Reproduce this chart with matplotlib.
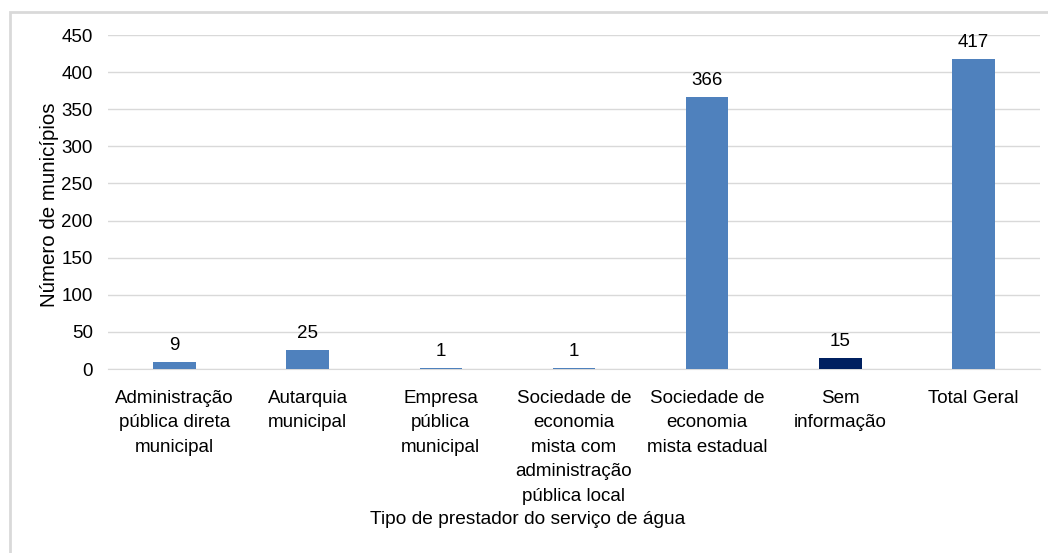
import matplotlib.pyplot as plt
from matplotlib.patches import Rectangle

categorias = [
    "Administração\npública direta\nmunicipal",
    "Autarquia\nmunicipal",
    "Empresa\npública\nmunicipal",
    "Sociedade de\neconomia\nmista com\nadministração\npública local",
    "Sociedade de\neconomia\nmista estadual",
    "Sem\ninformação",
    "Total Geral",
]
valores = [9, 25, 1, 1, 366, 15, 417]
cores = ["#4F81BD", "#4F81BD", "#4F81BD", "#4F81BD", "#4F81BD", "#002060", "#4F81BD"]

plt.rcParams['font.family'] = ['Liberation Sans', 'DejaVu Sans']
fs = 13.5

fig = plt.figure(figsize=(10.48, 5.53), dpi=100)
ax = fig.add_axes([108 / 1048, 1 - 369 / 553, (1040 - 108) / 1048, (369 - 35) / 553])

x = range(len(valores))
barras = ax.bar(x, valores, width=0.32, color=cores, zorder=3)
for xi, v in zip(x, valores):
    ax.text(xi, v + 11, str(v), ha="center", va="bottom", fontsize=fs)

ax.set_xlim(-0.5, len(valores) - 0.5)
ax.set_ylim(0, 450)
ax.set_yticks(range(0, 451, 50))
ax.set_xticks(list(x))
ax.set_xticklabels(categorias, fontsize=fs, linespacing=1.58)
ax.tick_params(axis="y", labelsize=fs, length=0, pad=11)
ax.tick_params(axis="x", length=0, pad=15)
ax.grid(axis="y", color="#D9D9D9", linewidth=1, zorder=0)
for s in ["top", "right", "left"]:
    ax.spines[s].set_visible(False)
ax.spines["bottom"].set_color("#D9D9D9")

fig.text(50 / 1048, 1 - 205 / 553, "Número de municípios", rotation=90,
         ha="center", va="center", fontsize=14.8)
fig.text(528 / 1048, 1 - 519 / 553, "Tipo de prestador do serviço de água",
         ha="center", va="center", fontsize=13.8)

fig.patches.append(Rectangle((10 / 1048, -0.01), 1.1, 1 - 12 / 553 + 0.01, transform=fig.transFigure,
                             fill=False, edgecolor="#D9D9D9", linewidth=2))

fig.savefig("out.png", dpi=100)
